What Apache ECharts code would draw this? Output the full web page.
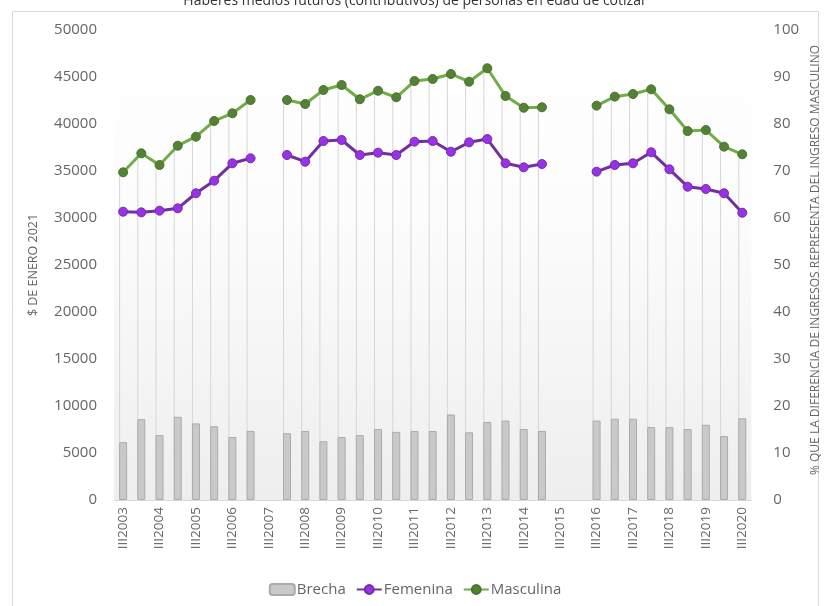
<!DOCTYPE html>
<html>
<head>
<meta charset="utf-8">
<script src="https://cdn.jsdelivr.net/npm/echarts@6/dist/echarts.min.js"></script>
<style>
  html, body { margin: 0; padding: 0; background: #fff; }
  #chart { width: 830px; height: 606px; }
</style>
</head>
<body>
<div id="chart"></div>
<script>
// categorías semestrales (se muestra una de cada dos)
const categories = ['III2003','I2004','III2004','I2005','III2005','I2006','III2006','I2007','III2007',
  'I2008','III2008','I2009','III2009','I2010','III2010','I2011','III2011','I2012','III2012','I2013',
  'III2013','I2014','III2014','I2015','III2015','I2016','III2016','I2017','III2017','I2018','III2018',
  'I2019','III2019','I2020','III2020'];

// $ de enero 2021
const masculina = [34860, 36880, 35640, 37690, 38650, 40320, 41140, 42550, null,
  42550, 42130, 43620, 44150, 42630, 43540, 42840, 44570, 44790, 45320, 44500, 45930, 42980, 41730, 41780,
  null, null,
  41950, 42910, 43190, 43690, 41560, 39250, 39360, 37590, 36780];

const femenina = [30670, 30600, 30780, 31030, 32630, 33970, 35820, 36350, null,
  36700, 35990, 38190, 38300, 36700, 36950, 36700, 38120, 38190, 37050, 38050, 38400, 35820, 35390, 35740,
  null, null,
  34930, 35640, 35820, 36990, 35180, 33330, 33090, 32630, 30560];

// % brecha
const brecha = [12.3, 17.2, 13.8, 17.7, 16.3, 15.7, 13.4, 14.7, null,
  14.2, 14.7, 12.5, 13.4, 13.8, 15.1, 14.5, 14.7, 14.7, 18.2, 14.4, 16.6, 16.9, 15.1, 14.7,
  null, null,
  16.9, 17.3, 17.3, 15.5, 15.5, 15.1, 16.0, 13.6, 17.4];

const chart = echarts.init(document.getElementById('chart'));
const txt = '#666666';
const font = '"Open Sans", "Liberation Sans", sans-serif';

chart.setOption({
  animation: false,
  textStyle: { fontFamily: font },
  title: {
    text: 'Haberes medios futuros (contributivos) de personas en edad de cotizar',
    left: 'center',
    top: -11,
    textStyle: { fontSize: 14, fontWeight: 'normal', color: '#333', fontFamily: font }
  },
  graphic: [{
    type: 'rect',
    shape: { x: 12.5, y: 11.5, width: 806, height: 610 },
    style: { fill: 'none', stroke: '#d9d9d9', lineWidth: 1 },
    silent: true
  }],
  grid: {
    left: 114, right: 76, top: 30, bottom: 106,
    show: true, borderWidth: 0,
    backgroundColor: {
      type: 'linear', x: 0, y: 0, x2: 0, y2: 1,
      colorStops: [
        { offset: 0, color: '#ffffff' },
        { offset: 0.4, color: '#fcfcfc' },
        { offset: 1, color: '#eeeeee' }
      ]
    }
  },
  legend: {
    bottom: 4,
    left: 'center',
    data: ['Brecha', 'Femenina', 'Masculina'],
    itemGap: 10,
    itemWidth: 25,
    itemHeight: 11,
    textStyle: { fontSize: 15, color: txt, fontFamily: font, padding: [0, 0, 0, -3] }
  },
  xAxis: {
    type: 'category',
    data: categories,
    axisLine: { lineStyle: { color: '#d9d9d9' } },
    axisTick: { show: false },
    axisLabel: { rotate: 90, interval: 1, color: txt, fontSize: 13.5, margin: 7 }
  },
  yAxis: [{
    type: 'value',
    min: 0, max: 50000, interval: 5000,
    name: '$ DE ENERO 2021',
    nameLocation: 'middle',
    nameGap: 74,
    nameRotate: 90,
    nameTextStyle: { fontSize: 12.5, color: txt },
    axisLabel: { color: txt, fontSize: 15, margin: 17, formatter: v => String(v) },
    splitLine: { show: false },
    axisLine: { show: false },
    axisTick: { show: false }
  }, {
    type: 'value',
    min: 0, max: 100, interval: 10,
    name: '% QUE LA DIFERENCIA DE INGRESOS REPRESENTA DEL INGRESO MASCULINO',
    nameLocation: 'middle',
    nameGap: 43,
    nameRotate: 90,
    nameTextStyle: { fontSize: 12, color: txt, padding: [0, 0, 0, 10] },
    axisLabel: { color: txt, fontSize: 15, margin: 22 },
    splitLine: { show: false },
    axisLine: { show: false },
    axisTick: { show: false }
  }],
  series: [{
    // líneas de caída
    name: 'drop',
    type: 'bar',
    yAxisIndex: 0,
    data: masculina,
    barWidth: 1,
    barGap: '-100%',
    itemStyle: { color: '#d6d6d6' },
    silent: true,
    z: 1
  }, {
    name: 'Brecha',
    type: 'bar',
    yAxisIndex: 1,
    data: brecha,
    barWidth: 8,
    barGap: '-100%',
    itemStyle: { color: '#c9c9c9', borderColor: '#ababab', borderWidth: 1 },
    z: 2
  }, {
    name: 'Femenina',
    type: 'line',
    yAxisIndex: 0,
    data: femenina,
    connectNulls: false,
    symbol: 'circle',
    symbolSize: 9,
    lineStyle: { color: '#7030a0', width: 3 },
    itemStyle: { color: '#9a30e8', borderColor: '#7030a0', borderWidth: 1 },
    z: 3
  }, {
    name: 'Masculina',
    type: 'line',
    yAxisIndex: 0,
    data: masculina,
    connectNulls: false,
    symbol: 'circle',
    symbolSize: 9,
    lineStyle: { color: '#70ad47', width: 3 },
    itemStyle: { color: '#548235', borderColor: '#4a7330', borderWidth: 1 },
    z: 3
  }]
});
</script>
</body>
</html>
